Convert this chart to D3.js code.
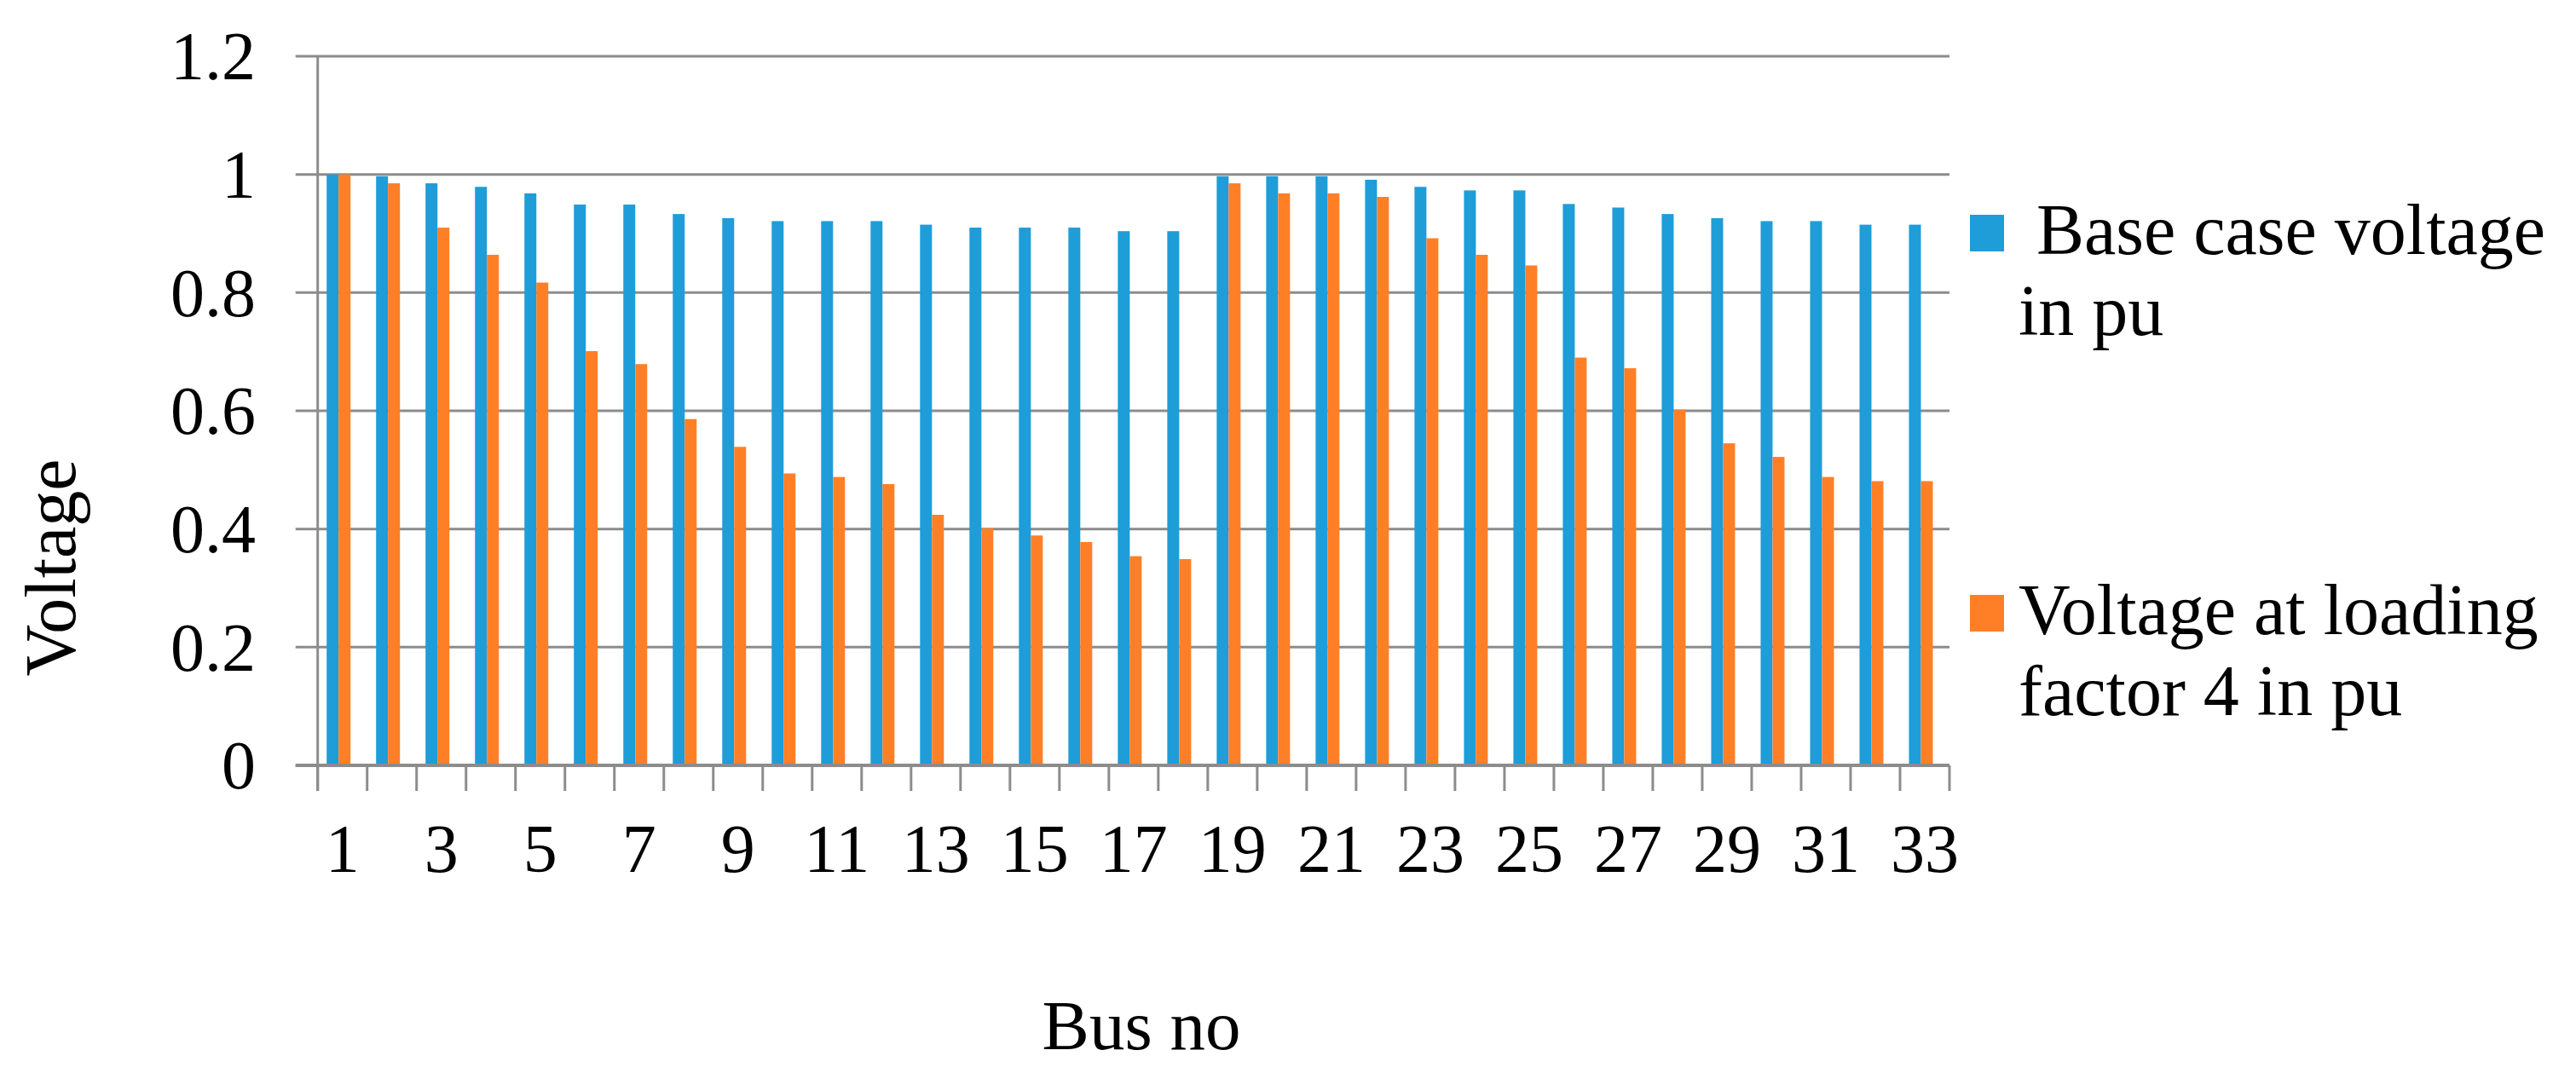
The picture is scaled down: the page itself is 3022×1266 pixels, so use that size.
<!DOCTYPE html>
<html>
<head>
<meta charset="utf-8">
<script src="https://cdn.jsdelivr.net/npm/d3@7"></script>
<style>
    body { margin: 0; background: #fff; }
    text { font-family: "Liberation Serif", "Times New Roman", serif; fill: #000; }
</style>
</head>
<body>
<div id="chart"></div>
<script>
// bus numbers on the x axis
var buses = [1, 2, 3, 4, 5, 6, 7, 8, 9, 10, 11, 12, 13, 14, 15, 16, 17, 18, 19, 20,
    21, 22, 23, 24, 25, 26, 27, 28, 29, 30, 31, 32, 33];

var seriesNames = [" Base case voltage in pu", "Voltage at loading factor 4 in pu"];

var baseVoltage = [1.0, 0.997, 0.985, 0.979, 0.968, 0.949, 0.949, 0.933, 0.926, 0.921, 0.921,
    0.921, 0.915, 0.910, 0.910, 0.910, 0.904, 0.904, 0.997, 0.997, 0.997, 0.991, 0.979,
    0.973, 0.973, 0.950, 0.944, 0.933, 0.926, 0.921, 0.921, 0.915, 0.915];

var loadedVoltage = [1.0, 0.985, 0.910, 0.864, 0.817, 0.701, 0.679, 0.586, 0.539, 0.494, 0.488,
    0.476, 0.424, 0.401, 0.389, 0.378, 0.354, 0.349, 0.985, 0.968, 0.968, 0.962, 0.892,
    0.864, 0.846, 0.690, 0.672, 0.602, 0.545, 0.522, 0.488, 0.481, 0.481];

var yTicks = [0, 0.2, 0.4, 0.6, 0.8, 1, 1.2];
var xTickLabels = [1, 3, 5, 7, 9, 11, 13, 15, 17, 19, 21, 23, 25, 27, 29, 31, 33];

var colors = ["#1e9dd8", "#ff7f27"];
var gridColor = "#8c8c8c";

var width = 3022, height = 1266;
var plot = {left: 372.7, right: 2287, top: 66, bottom: 898};

var svg = d3.select("#chart").append("svg")
    .attr("width", width)
    .attr("height", height);

var xScale = d3.scaleBand()
    .domain(buses)
    .range([plot.left, plot.right]);

// two bars inside each band, pushed a bit left like the original
var xInner = d3.scaleBand()
    .domain([0, 1])
    .range([10.5, 38.5]);

var yScale = d3.scaleLinear()
    .domain([0, 1.2])
    .range([plot.bottom, plot.top]);

// gridlines + small outside stubs on the left
svg.append("g").selectAll("line")
    .data(yTicks)
    .enter().append("line")
    .attr("x1", plot.left - 26)
    .attr("x2", plot.right)
    .attr("y1", function (d) { return yScale(d); })
    .attr("y2", function (d) { return yScale(d); })
    .attr("stroke", gridColor)
    .attr("stroke-width", 3);

// y tick labels
svg.append("g").selectAll("text")
    .data(yTicks)
    .enter().append("text")
    .attr("x", 300)
    .attr("y", function (d) { return yScale(d); })
    .attr("dy", "0.34em")
    .attr("text-anchor", "end")
    .attr("font-size", 80)
    .text(function (d) { return d3.format("")(d); });

// bars
var rows = buses.map(function (b, i) {
    return {bus: b, values: [baseVoltage[i], loadedVoltage[i]]};
});

var groups = svg.append("g").selectAll("g")
    .data(rows)
    .enter().append("g")
    .attr("transform", function (d) { return "translate(" + xScale(d.bus) + ",0)"; });

groups.selectAll("rect")
    .data(function (d) { return d.values; })
    .enter().append("rect")
    .attr("x", function (d, i) { return xInner(i); })
    .attr("width", xInner.bandwidth())
    .attr("y", function (d) { return yScale(d); })
    .attr("height", function (d) { return plot.bottom - yScale(d); })
    .attr("fill", function (d, i) { return colors[i]; });

// x axis line and category ticks
svg.append("line")
    .attr("x1", plot.left - 26)
    .attr("x2", plot.right)
    .attr("y1", plot.bottom)
    .attr("y2", plot.bottom)
    .attr("stroke", gridColor)
    .attr("stroke-width", 4);

var tickPos = buses.map(function (b) { return xScale(b); }).concat([plot.right]);

svg.append("g").selectAll("line")
    .data(tickPos)
    .enter().append("line")
    .attr("x1", function (d) { return d; })
    .attr("x2", function (d) { return d; })
    .attr("y1", plot.bottom)
    .attr("y2", plot.bottom + 30)
    .attr("stroke", gridColor)
    .attr("stroke-width", 3);

// y axis line
svg.append("line")
    .attr("x1", plot.left)
    .attr("x2", plot.left)
    .attr("y1", plot.top)
    .attr("y2", plot.bottom + 30)
    .attr("stroke", gridColor)
    .attr("stroke-width", 3);

// x tick labels (odd buses only)
svg.append("g").selectAll("text")
    .data(xTickLabels)
    .enter().append("text")
    .attr("x", function (d) { return xScale(d) + xScale.bandwidth() / 2; })
    .attr("y", 1023)
    .attr("text-anchor", "middle")
    .attr("font-size", 80)
    .text(function (d) { return d; });

// axis titles
svg.append("text")
    .attr("transform", "translate(88,666) rotate(-90)")
    .attr("text-anchor", "middle")
    .attr("font-size", 84)
    .text("Voltage");

svg.append("text")
    .attr("x", 1339)
    .attr("y", 1231)
    .attr("text-anchor", "middle")
    .attr("font-size", 83)
    .text("Bus no");

// legend
var legendLines = [[" Base case voltage", "in pu"], ["Voltage at loading", "factor 4 in pu"]];
var legendTop = [252, 698];

var legend = svg.append("g").selectAll("g")
    .data(seriesNames)
    .enter().append("g")
    .attr("transform", function (d, i) { return "translate(2311," + legendTop[i] + ")"; });

legend.append("rect")
    .attr("width", 40)
    .attr("height", 43)
    .attr("fill", function (d, i) { return colors[i]; });

legend.append("text")
    .attr("x", 57)
    .attr("y", 46)
    .attr("font-size", 84)
    .style("white-space", "pre")
    .selectAll("tspan")
    .data(function (d, i) { return legendLines[i]; })
    .enter().append("tspan")
    .attr("x", 57)
    .attr("dy", function (d, j) { return j === 0 ? 0 : 95; })
    .text(function (d) { return d; });
</script>
</body>
</html>
